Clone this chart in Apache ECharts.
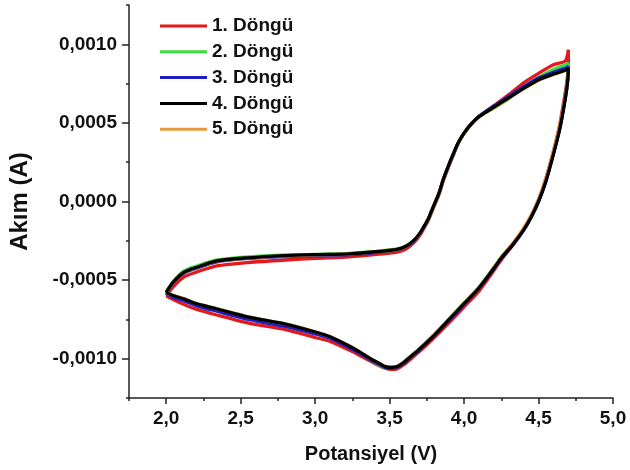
<!DOCTYPE html>
<html>
<head>
<meta charset="utf-8">
<script src="https://cdn.jsdelivr.net/npm/echarts@6/dist/echarts.min.js"></script>
<style>html,body{margin:0;padding:0;background:#fff}#c{width:630px;height:470px}</style>
</head>
<body>
<div id="c"></div>
<script>
// Potential (V): forward scan and reverse scan
const potFwd = [2.00,2.05,2.12,2.20,2.34,2.55,2.80,3.00,3.23,3.43,3.55,3.61,3.66,3.70,3.73,3.76,3.79,3.83,3.86,3.90,3.93,3.96,4.00,4.05,4.10,4.20,4.30,4.40,4.50,4.60,4.68,4.70];
const potRev = [4.70,4.69,4.67,4.64,4.60,4.55,4.50,4.45,4.40,4.33,4.25,4.20,4.10,4.00,3.90,3.80,3.70,3.65,3.60,3.55,3.51,3.47,3.43,3.38,3.32,3.25,3.10,3.00,2.80,2.56,2.34,2.20,2.12,2.05,2.00];

// Current (A) per cycle
const c1Fwd = [-0.000600,-0.000540,-0.000480,-0.000450,-0.000410,-0.000388,-0.000372,-0.000362,-0.000352,-0.000335,-0.000322,-0.000302,-0.000265,-0.000220,-0.000172,-0.000120,-0.000050,0.000040,0.000130,0.000230,0.000300,0.000370,0.000435,0.000495,0.000540,0.000610,0.000680,0.000755,0.000815,0.000870,0.000895,0.000965];
const c1Rev = [0.000870,0.000760,0.000640,0.000480,0.000320,0.000150,0.000010,-0.000095,-0.000180,-0.000275,-0.000370,-0.000440,-0.000570,-0.000670,-0.000770,-0.000865,-0.000955,-0.000995,-0.001035,-0.001065,-0.001068,-0.001060,-0.001045,-0.001020,-0.000990,-0.000955,-0.000890,-0.000865,-0.000815,-0.000775,-0.000722,-0.000685,-0.000655,-0.000625,-0.000600];
const c2Fwd = [-0.000575,-0.000505,-0.000442,-0.000412,-0.000372,-0.000352,-0.000340,-0.000336,-0.000330,-0.000316,-0.000302,-0.000283,-0.000250,-0.000210,-0.000165,-0.000115,-0.000045,0.000045,0.000135,0.000235,0.000305,0.000372,0.000432,0.000492,0.000540,0.000595,0.000655,0.000725,0.000790,0.000840,0.000870,0.000880];
const c2Rev = [0.000850,0.000735,0.000610,0.000460,0.000310,0.000140,0.000005,-0.000095,-0.000175,-0.000265,-0.000355,-0.000420,-0.000545,-0.000645,-0.000745,-0.000845,-0.000935,-0.000978,-0.001020,-0.001052,-0.001060,-0.001058,-0.001040,-0.001012,-0.000975,-0.000935,-0.000862,-0.000830,-0.000778,-0.000735,-0.000682,-0.000648,-0.000618,-0.000598,-0.000575];
const c3Fwd = [-0.000582,-0.000515,-0.000455,-0.000425,-0.000384,-0.000362,-0.000350,-0.000344,-0.000338,-0.000322,-0.000308,-0.000288,-0.000254,-0.000210,-0.000164,-0.000112,-0.000042,0.000048,0.000138,0.000238,0.000305,0.000370,0.000435,0.000495,0.000542,0.000606,0.000668,0.000730,0.000785,0.000822,0.000848,0.000858];
const c3Rev = [0.000835,0.000725,0.000605,0.000455,0.000305,0.000132,0.000000,-0.000100,-0.000182,-0.000272,-0.000362,-0.000428,-0.000553,-0.000655,-0.000755,-0.000855,-0.000945,-0.000985,-0.001025,-0.001055,-0.001062,-0.001055,-0.001036,-0.001012,-0.000978,-0.000940,-0.000870,-0.000842,-0.000795,-0.000752,-0.000698,-0.000662,-0.000632,-0.000610,-0.000582];
const c4Fwd = [-0.000578,-0.000510,-0.000450,-0.000420,-0.000378,-0.000358,-0.000344,-0.000338,-0.000333,-0.000318,-0.000305,-0.000285,-0.000250,-0.000206,-0.000160,-0.000110,-0.000040,0.000050,0.000140,0.000240,0.000308,0.000372,0.000435,0.000495,0.000540,0.000600,0.000660,0.000720,0.000775,0.000810,0.000835,0.000845];
const c4Rev = [0.000830,0.000720,0.000600,0.000450,0.000300,0.000130,0.000000,-0.000100,-0.000180,-0.000270,-0.000360,-0.000425,-0.000550,-0.000650,-0.000750,-0.000850,-0.000940,-0.000980,-0.001020,-0.001050,-0.001055,-0.001050,-0.001030,-0.001005,-0.000970,-0.000930,-0.000860,-0.000830,-0.000780,-0.000737,-0.000684,-0.000650,-0.000620,-0.000600,-0.000578];
const c5Fwd = [-0.000580,-0.000512,-0.000452,-0.000421,-0.000380,-0.000360,-0.000346,-0.000339,-0.000334,-0.000319,-0.000306,-0.000286,-0.000252,-0.000208,-0.000162,-0.000112,-0.000042,0.000048,0.000138,0.000238,0.000306,0.000370,0.000433,0.000493,0.000538,0.000598,0.000658,0.000718,0.000772,0.000808,0.000832,0.000842];
const c5Rev = [0.000825,0.000730,0.000615,0.000470,0.000320,0.000150,0.000015,-0.000088,-0.000170,-0.000262,-0.000355,-0.000422,-0.000548,-0.000648,-0.000748,-0.000848,-0.000938,-0.000978,-0.001018,-0.001048,-0.001053,-0.001048,-0.001029,-0.001004,-0.000969,-0.000929,-0.000859,-0.000829,-0.000779,-0.000736,-0.000683,-0.000649,-0.000619,-0.000599,-0.000580];

const cycleNames = ['1. Döngü','2. Döngü','3. Döngü','4. Döngü','5. Döngü'];
const xMajorTicks = [2.0,2.5,3.0,3.5,4.0,4.5,5.0];
const xMinorTicks = [1.75,2.25,2.75,3.25,3.75,4.25,4.75];
const yMajorTicks = [-0.0010,-0.0005,0.0000,0.0005,0.0010];
const yMinorTicks = [-0.00125,-0.00075,-0.00025,0.00025,0.00075,0.00125];

const colors = ['#e3191c','#3ddc3d','#1c1cc8','#000000','#e8983e'];

function loop(fwd, rev) {
  const pts = [];
  for (let i = 0; i < potFwd.length; i++) pts.push([potFwd[i], fwd[i]]);
  for (let i = 0; i < potRev.length; i++) pts.push([potRev[i], rev[i]]);
  return pts;
}
const cycles = [[c1Fwd,c1Rev],[c2Fwd,c2Rev],[c3Fwd,c3Rev],[c4Fwd,c4Rev],[c5Fwd,c5Rev]];
const drawOrder = [0,1,2,4,3];

const FONT = '"Liberation Sans", Arial, sans-serif';
const axisCol = '#222';
const fmtNum = (v, d) => v.toFixed(d).replace('.', ',').replace(/^-0,0+$/, '0,0000');

const chart = echarts.init(document.getElementById('c'), null, {renderer: 'canvas'});
chart.setOption({
  animation: false,
  backgroundColor: '#fff',
  grid: {left: 128, right: 17, top: 5, bottom: 72, containLabel: false},
  legend: {
    orient: 'vertical', left: 155, top: 11,
    itemWidth: 47, itemHeight: 3, itemGap: 5.8, icon: 'rect',
    data: cycleNames,
    textStyle: {fontFamily: FONT, fontWeight: 'bold', fontSize: 19, color: '#111', lineHeight: 20}
  },
  xAxis: [{
    type: 'value', min: 1.75, max: 5.0,
    name: 'Potansiyel (V)', nameLocation: 'middle', nameGap: 46,
    nameTextStyle: {fontFamily: FONT, fontWeight: 'bold', fontSize: 20, color: '#111'},
    axisLine: {show: true, onZero: false, lineStyle: {color: axisCol, width: 1.5}},
    axisTick: {show: true, inside: false, length: 6, customValues: xMajorTicks, lineStyle: {color: axisCol, width: 1.5}},
    axisLabel: {customValues: xMajorTicks, margin: 11, fontFamily: FONT, fontWeight: 'bold', fontSize: 19, color: '#111',
      formatter: v => fmtNum(v, 1)},
    splitLine: {show: false}
  }, {
    type: 'value', min: 1.75, max: 5.0, position: 'bottom',
    axisLine: {show: false, onZero: false},
    axisTick: {show: true, length: 3, customValues: xMinorTicks, lineStyle: {color: axisCol, width: 1.5}},
    axisLabel: {show: false},
    splitLine: {show: false}
  }],
  yAxis: [{
    type: 'value', min: -0.00125, max: 0.00125,
    name: 'Akım (A)', nameLocation: 'middle', nameGap: 97, nameRotate: 90,
    nameTextStyle: {fontFamily: FONT, fontWeight: 'bold', fontSize: 24, color: '#111'},
    axisLine: {show: true, onZero: false, lineStyle: {color: axisCol, width: 1.5}},
    axisTick: {show: true, length: 7, customValues: yMajorTicks, lineStyle: {color: axisCol, width: 1.5}},
    axisLabel: {customValues: yMajorTicks, margin: 12, fontFamily: FONT, fontWeight: 'bold', fontSize: 19, color: '#111',
      formatter: v => fmtNum(v, 4)},
    splitLine: {show: false}
  }, {
    type: 'value', min: -0.00125, max: 0.00125, position: 'left',
    axisLine: {show: false, onZero: false},
    axisTick: {show: true, length: 3, customValues: yMinorTicks, lineStyle: {color: axisCol, width: 1.5}},
    axisLabel: {show: false},
    splitLine: {show: false}
  }],
  series: drawOrder.map(i => ({
    name: cycleNames[i], type: 'line',
    xAxisIndex: 0, yAxisIndex: 0,
    data: loop(cycles[i][0], cycles[i][1]),
    showSymbol: false, symbol: 'none',
    smooth: 0.25,
    color: colors[i],
    lineStyle: {color: colors[i], width: 3.3},
    itemStyle: {color: colors[i]}
  }))
});
</script>
</body>
</html>
